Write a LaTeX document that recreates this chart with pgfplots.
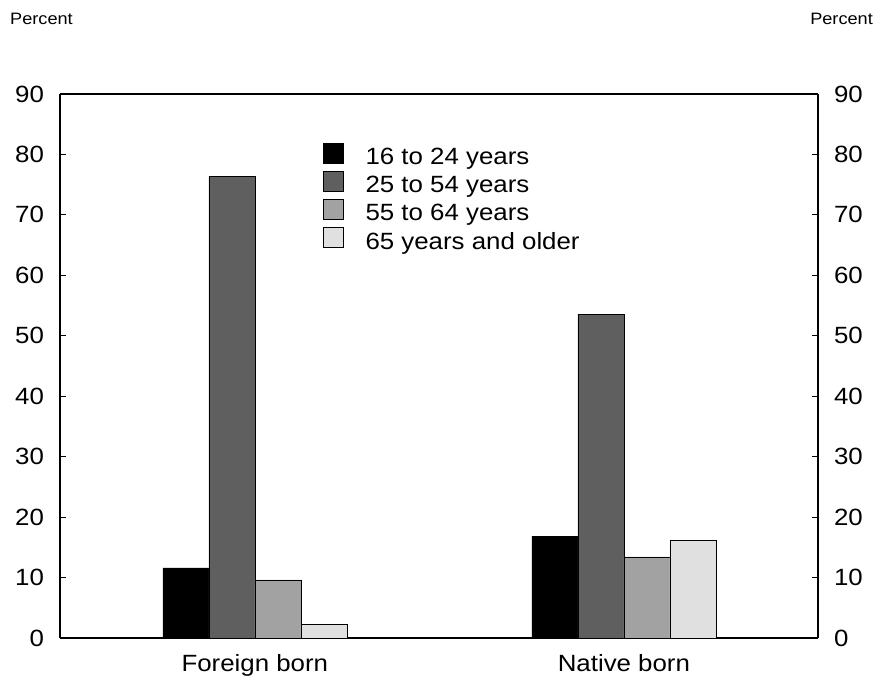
\documentclass[border=0pt]{standalone}
\usepackage{pgfplots}
\pgfplotsset{compat=1.18}
\usepackage{fontspec}
\setmainfont{Liberation Sans}[FakeStretch=1.1]
\definecolor{c1}{HTML}{000000}
\definecolor{c2}{HTML}{5F5F5F}
\definecolor{c3}{HTML}{A2A2A2}
\definecolor{c4}{HTML}{E0E0E0}
\begin{document}
\fontsize{23.5pt}{28pt}\selectfont
\begin{tikzpicture}
\begin{axis}[
  scale only axis, width=758pt, height=544pt,
  ymin=0, ymax=90, ytick={0,10,...,90},
  xmin=-0.528, xmax=1.526,
  xtick={0,1}, xticklabels={Foreign born, Native born},
  axis y line*=left, axis x line*=bottom,
  axis line style={line width=1.2pt},
  ytick style={line width=0.8pt, black}, tick align=inside, major tick length=6pt,
  xtick style={draw=none},
  ybar=0pt, bar width=46pt,
  /pgf/number format/assume math mode=true,
  ticklabel style={font=\fontsize{23.5pt}{28pt}\selectfont},
  yticklabel style={xshift=-8pt},
  xticklabel style={yshift=-2pt},
  legend style={draw=none, fill=none, at={(rel axis cs:0.347,0.911)}, anchor=north west,
    font=\fontsize{23.5pt}{28pt}\selectfont, row sep=3pt, inner sep=0pt,
    nodes={inner sep=0pt}},
  legend cell align=left,
  legend image code/.code={\draw[#1, draw=black, line width=0.6pt] (0pt,-5pt) rectangle (20pt,15pt); \path[draw=none, fill=none] (0pt,0pt) -- (42pt,0pt);},
  clip=false,
]
\addplot[fill=c1, draw=black, line width=0.6pt] coordinates {(0,11.6) (1,16.8)};
\addplot[fill=c2, draw=black, line width=0.6pt] coordinates {(0,76.4) (1,53.6)};
\addplot[fill=c3, draw=black, line width=0.6pt] coordinates {(0,9.6) (1,13.4)};
\addplot[fill=c4, draw=black, line width=0.6pt] coordinates {(0,2.3) (1,16.1)};
\legend{16 to 24 years, 25 to 54 years, 55 to 64 years, 65 years and older}
\coordinate (ll) at (rel axis cs:0,0);
\coordinate (ur) at (rel axis cs:1,1);
\end{axis}
\begin{axis}[
  scale only axis, width=758pt, height=544pt,
  ymin=0, ymax=90, ytick={0,10,...,90},
  xmin=-0.528, xmax=1.526,
  axis y line*=right, axis x line*=top,
  xtick=\empty,
  ytick style={line width=0.8pt, black}, tick align=inside, major tick length=6pt,
  axis line style={line width=1.2pt},
  /pgf/number format/assume math mode=true,
  ticklabel style={font=\fontsize{23.5pt}{28pt}\selectfont},
  yticklabel style={xshift=8pt},
]
\end{axis}
\node[anchor=west, inner sep=0pt, font=\fontsize{16.5pt}{20pt}\selectfont] at ([shift={(-50pt,75pt)}]ll |- ur) {Percent};
\node[anchor=east, inner sep=0pt, font=\fontsize{16.5pt}{20pt}\selectfont] at ([shift={(55pt,75pt)}]ur) {Percent};
\path (ll) ++(-60pt,-39pt);
\path (ur) ++(65pt,94pt);
\end{tikzpicture}
\end{document}
